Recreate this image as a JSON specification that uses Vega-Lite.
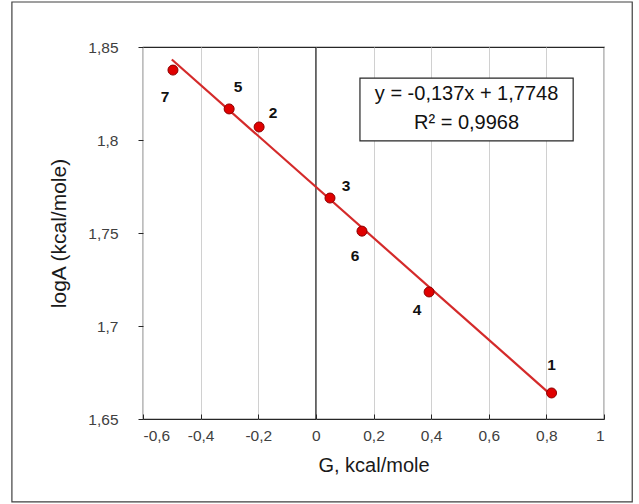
{
  "$schema": "https://vega.github.io/schema/vega-lite/v6.json",
  "width": 461,
  "height": 372,
  "autosize": "none",
  "padding": {"left": 143, "top": 47, "right": 35, "bottom": 85},
  "background": "white",
  "config": {
    "view": {"stroke": "#262626", "strokeWidth": 1.2},
    "font": "Liberation Sans"
  },
  "datasets": {
    "pts": [
      {"G": -0.496, "logA": 1.8376, "id": "7"},
      {"G": -0.301, "logA": 1.8167, "id": "5"},
      {"G": -0.197, "logA": 1.807, "id": "2"},
      {"G": 0.049, "logA": 1.7688, "id": "3"},
      {"G": 0.16, "logA": 1.751, "id": "6"},
      {"G": 0.393, "logA": 1.7183, "id": "4"},
      {"G": 0.818, "logA": 1.664, "id": "1"}
    ],
    "fit": [
      {"G": -0.5, "logA": 1.8433},
      {"G": 0.82, "logA": 1.66246}
    ]
  },
  "layer": [
    {
      "data": {"values": [{"x1": -1.055, "x2": 1.098, "y1": 1.6054, "y2": 1.8742}]},
      "mark": {"type": "rect", "fill": null, "stroke": "#404040", "strokeWidth": 1.2, "clip": false},
      "encoding": {
        "x": {"field": "x1", "type": "quantitative", "scale": {"domain": [-0.6, 1], "nice": false, "zero": false},
          "axis": {"values": [-0.6, -0.4, -0.2, 0, 0.2, 0.4, 0.6, 0.8, 1], "labelExpr": "replace(replace(format(datum.value, '.1~f'), '.', ','), '−', '-')",
            "grid": true, "gridColor": "#d0d0d0", "gridWidth": 1, "domain": false, "tickSize": -5, "tickColor": "#262626",
            "labelFontSize": 15.5, "labelColor": "#404040", "labelPadding": 14,
            "title": "G, kcal/mole", "titleFontSize": 20, "titleFontWeight": "normal", "titleColor": "#1a1a1a", "titlePadding": 12}},
        "x2": {"field": "x2"},
        "y": {"field": "y1", "type": "quantitative", "scale": {"domain": [1.65, 1.85], "nice": false, "zero": false},
          "axis": {"values": [1.65, 1.7, 1.75, 1.8, 1.85], "labelExpr": "replace(format(datum.value, '.2~f'), '.', ',')",
            "grid": false, "domain": false, "tickSize": 5, "tickColor": "#262626",
            "labelFontSize": 15.5, "labelColor": "#404040", "labelPadding": 20,
            "title": "logA (kcal/mole)", "titleFontSize": 21, "titleFontWeight": "normal", "titleColor": "#1a1a1a", "titlePadding": 18}},
        "y2": {"field": "y2"}
      }
    },
    {
      "data": {"values": [{"G": 0}]},
      "mark": {"type": "rule", "color": "#262626", "strokeWidth": 1.2},
      "encoding": {"x": {"field": "G", "type": "quantitative"}}
    },
    {
      "data": {"name": "fit"},
      "mark": {"type": "line", "color": "#d42a2a", "strokeWidth": 2.2},
      "encoding": {
        "x": {"field": "G", "type": "quantitative"},
        "y": {"field": "logA", "type": "quantitative"}
      }
    },
    {
      "data": {"name": "pts"},
      "mark": {"type": "point", "filled": true, "fill": "#e00000", "stroke": "#8b0000", "strokeWidth": 1, "size": 100, "opacity": 1},
      "encoding": {
        "x": {"field": "G", "type": "quantitative"},
        "y": {"field": "logA", "type": "quantitative"}
      }
    },
    {"data": {"name": "pts"}, "transform": [{"filter": "datum.id == '7'"}],
      "mark": {"type": "text", "dx": -8, "dy": 27, "fontSize": 15.5, "fontWeight": "bold", "color": "#111"},
      "encoding": {"x": {"field": "G", "type": "quantitative"}, "y": {"field": "logA", "type": "quantitative"}, "text": {"field": "id"}}},
    {"data": {"name": "pts"}, "transform": [{"filter": "datum.id == '5'"}],
      "mark": {"type": "text", "dx": 9, "dy": -22, "fontSize": 15.5, "fontWeight": "bold", "color": "#111"},
      "encoding": {"x": {"field": "G", "type": "quantitative"}, "y": {"field": "logA", "type": "quantitative"}, "text": {"field": "id"}}},
    {"data": {"name": "pts"}, "transform": [{"filter": "datum.id == '2'"}],
      "mark": {"type": "text", "dx": 14, "dy": -14, "fontSize": 15.5, "fontWeight": "bold", "color": "#111"},
      "encoding": {"x": {"field": "G", "type": "quantitative"}, "y": {"field": "logA", "type": "quantitative"}, "text": {"field": "id"}}},
    {"data": {"name": "pts"}, "transform": [{"filter": "datum.id == '3'"}],
      "mark": {"type": "text", "dx": 16, "dy": -12, "fontSize": 15.5, "fontWeight": "bold", "color": "#111"},
      "encoding": {"x": {"field": "G", "type": "quantitative"}, "y": {"field": "logA", "type": "quantitative"}, "text": {"field": "id"}}},
    {"data": {"name": "pts"}, "transform": [{"filter": "datum.id == '6'"}],
      "mark": {"type": "text", "dx": -7, "dy": 25, "fontSize": 15.5, "fontWeight": "bold", "color": "#111"},
      "encoding": {"x": {"field": "G", "type": "quantitative"}, "y": {"field": "logA", "type": "quantitative"}, "text": {"field": "id"}}},
    {"data": {"name": "pts"}, "transform": [{"filter": "datum.id == '4'"}],
      "mark": {"type": "text", "dx": -12, "dy": 18, "fontSize": 15.5, "fontWeight": "bold", "color": "#111"},
      "encoding": {"x": {"field": "G", "type": "quantitative"}, "y": {"field": "logA", "type": "quantitative"}, "text": {"field": "id"}}},
    {"data": {"name": "pts"}, "transform": [{"filter": "datum.id == '1'"}],
      "mark": {"type": "text", "dx": 0, "dy": -28, "fontSize": 15.5, "fontWeight": "bold", "color": "#111"},
      "encoding": {"x": {"field": "G", "type": "quantitative"}, "y": {"field": "logA", "type": "quantitative"}, "text": {"field": "id"}}},
    {
      "data": {"values": [{"x1": 0.153, "x2": 0.893, "y1": 1.7995, "y2": 1.8333}]},
      "mark": {"type": "rect", "fill": "white", "stroke": "#262626", "strokeWidth": 1.2},
      "encoding": {
        "x": {"field": "x1", "type": "quantitative"}, "x2": {"field": "x2"},
        "y": {"field": "y1", "type": "quantitative"}, "y2": {"field": "y2"}
      }
    },
    {
      "data": {"values": [
        {"x": 0.523, "y": 1.8245, "t": "y = -0,137x + 1,7748"},
        {"x": 0.523, "y": 1.8089, "t": "R² = 0,9968"}
      ]},
      "mark": {"type": "text", "fontSize": 20, "color": "#111", "align": "center", "baseline": "middle"},
      "encoding": {
        "x": {"field": "x", "type": "quantitative"},
        "y": {"field": "y", "type": "quantitative"},
        "text": {"field": "t"}
      }
    }
  ]
}
